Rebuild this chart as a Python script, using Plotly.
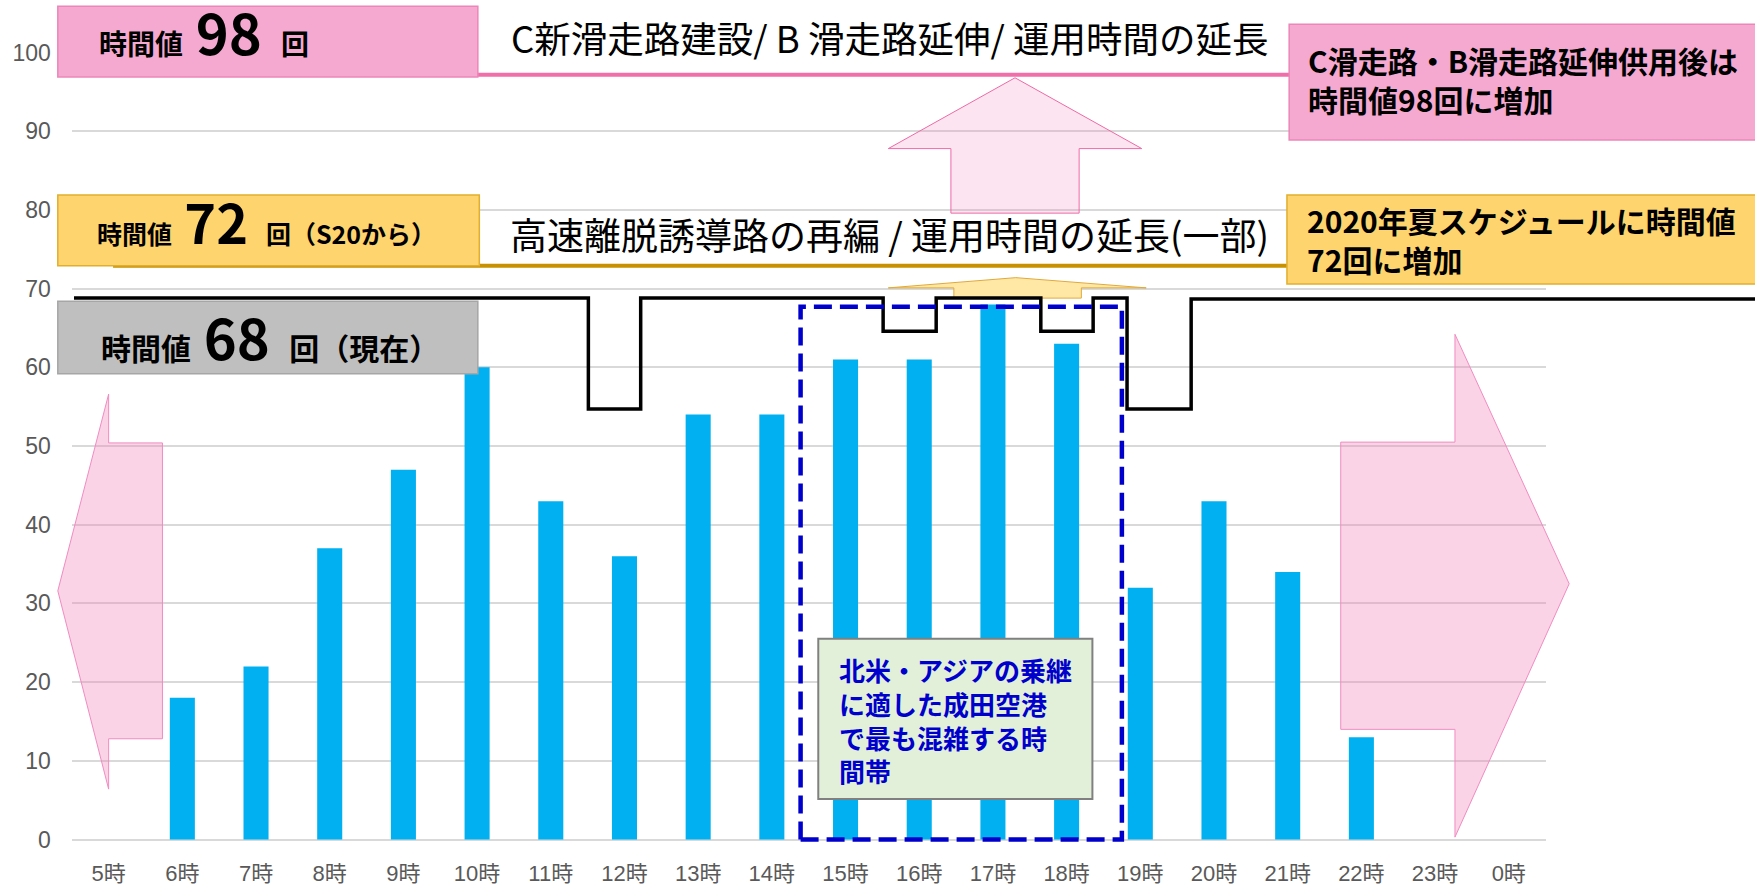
import plotly.graph_objects as go

W, H = 1755, 885

# ── Data ─────────────────────────────────────────────────────────────────────
hour_pos = [5, 6, 7, 8, 9, 10, 11, 12, 13, 14, 15, 16, 17, 18, 19, 20, 21, 22, 23, 24]
hour_labels = ["5時", "6時", "7時", "8時", "9時", "10時", "11時", "12時", "13時", "14時",
               "15時", "16時", "17時", "18時", "19時", "20時", "21時", "22時", "23時", "0時"]
flights = [0, 18, 22, 37, 47, 60, 43, 36, 54, 54, 61, 61, 68, 63, 32, 43, 34, 13, 0, 0]

# current hourly slot limit (step line): segment edges in hours, level per segment
limit_edges = [4.53, 11.51, 12.22, 15.51, 16.23, 17.65, 18.36, 18.82, 19.69, 27.4]
limit_levels = [68.8, 54.7, 68.8, 64.6, 68.8, 64.6, 68.8, 54.7, 68.7]

# future hourly values drawn as lines (C runway / S20)
future_levels = [97.2, 72.9]
future_span = [5.06, 21.1]

y_ticks = [0, 10, 20, 30, 40, 50, 60, 70, 80, 90, 100]

# ── Geometry of the main plot area (pixels) ──────────────────────────────────
L, R, T, B = 71.8, 1545.6, 52.6, 839.5
kx = 20 / (R - L)
ky = 100 / (B - T)
x2_range = [4.5 - L * kx, 24.5 + (W - R) * kx]
y2_range = [0 - (H - B) * ky, 100 + T * ky]

JP = "Noto Sans CJK JP, sans-serif"
TICK = "Liberation Sans, Arial, Noto Sans CJK JP, sans-serif"

PINK_FILL, PINK_EDGE, PINK_LINE = "#F5A9D0", "#EC86B9", "#F06EAA"
GOLD_FILL, GOLD_EDGE, GOLD_LINE = "#FED46E", "#E2AE2D", "#C89100"
BLUE = "#0000CC"

fig = go.Figure()

# invisible trace so the main (tick/grid) subplot gets drawn
fig.add_trace(go.Scatter(x=hour_pos, y=flights, mode="none", hoverinfo="skip",
                         xaxis="x", yaxis="y"))

fig.add_trace(go.Bar(
    x=hour_pos, y=flights, width=0.34,
    marker=dict(color="#00B0F0", line=dict(width=0)),
    xaxis="x2", yaxis="y2", hoverinfo="x+y",
))

fig.add_trace(go.Scatter(
    x=limit_edges, y=limit_levels + [limit_levels[-1]],
    mode="lines", line=dict(color="black", width=3.5, shape="hv"),
    xaxis="x2", yaxis="y2", hoverinfo="skip",
))

for lvl, col in zip(future_levels, [PINK_LINE, GOLD_LINE]):
    fig.add_trace(go.Scatter(
        x=future_span, y=[lvl, lvl], mode="lines",
        line=dict(color=col, width=4),
        xaxis="x2", yaxis="y2", hoverinfo="skip",
    ))


def path(points):
    return "M " + " L ".join(f"{x},{y}" for x, y in points) + " Z"


shapes = []
# big translucent arrows (behind bars)
arrow_pink = dict(type="path", xref="x2", yref="y2", layer="below",
                  fillcolor="rgba(240,130,185,0.35)", line=dict(color="#F08CC0", width=1))
shapes.append(dict(arrow_pink, path=path([
    (4.31, 31.6), (5.0, 56.6), (5.0, 50.4), (5.73, 50.4),
    (5.73, 12.8), (5.0, 12.8), (5.0, 6.4)])))
shapes.append(dict(arrow_pink, path=path([
    (21.72, 50.5), (23.27, 50.5), (23.27, 64.2), (24.82, 32.5),
    (23.27, 0.3), (23.27, 14.0), (21.72, 14.0)])))
shapes.append(dict(type="path", xref="x2", yref="y2", layer="below",
                   fillcolor="rgba(240,130,185,0.22)", line=dict(color="#EE6AA7", width=1),
                   path=path([(16.43, 79.6), (16.43, 87.8), (15.58, 87.8), (17.30, 96.8),
                              (19.02, 87.8), (18.17, 87.8), (18.17, 79.6)])))
shapes.append(dict(type="path", xref="x2", yref="y2", layer="below",
                   fillcolor="#FFE8A6", line=dict(color="#E0A93A", width=1),
                   path=path([(16.47, 68.8), (16.47, 70.1), (15.58, 70.1), (17.31, 71.4),
                              (19.08, 70.1), (18.20, 70.1), (18.20, 68.8)])))


def box(x0, x1, y0, y1, fill, edge, width=1.5):
    return dict(type="rect", xref="x2", yref="y2", layer="above",
                x0=x0, x1=x1, y0=y0, y1=y1,
                fillcolor=fill, line=dict(color=edge, width=width))


shapes += [
    box(4.31, 10.01, 96.9, 105.9, PINK_FILL, PINK_EDGE),
    box(4.31, 10.03, 72.9, 81.9, GOLD_FILL, GOLD_EDGE),
    box(4.31, 10.01, 59.2, 68.4, "#BFBFBF", "#A6A6A6"),
    box(21.02, 27.6, 88.9, 103.6, PINK_FILL, PINK_EDGE),
    box(20.99, 27.6, 70.6, 81.9, GOLD_FILL, GOLD_EDGE),
    dict(type="rect", xref="x2", yref="y2", layer="above",
         x0=14.39, x1=18.75, y0=0, y1=67.7,
         line=dict(color=BLUE, width=4.5, dash="18px,8px")),
    box(14.63, 18.35, 5.15, 25.5, "#E2F0D9", "#808080", width=2),
]


def note(text, x, y, size, color="black", bold=True, anchor="left", bg=None):
    return dict(text=f"<b>{text}</b>" if bold else text, x=x, y=y,
                xref="x2", yref="y2", xanchor=anchor, yanchor="middle",
                align="left", showarrow=False, bgcolor=bg, borderpad=0,
                font=dict(family=JP, size=size, color=color))


big = '<span style="font-size:{}px"> {} </span>'
annotations = [
    note("時間値" + big.format(56, "98") + " 回", 4.86, 102.8, 28),
    note("時間値" + big.format(54, "72") + " 回（S20から）", 4.83, 78.7, 25),
    note("時間値" + big.format(56, "68") + " 回（現在）", 4.88, 64.0, 30),
    note("C新滑走路建設/ B 滑走路延伸/ 運用時間の延長", 15.60, 101.9, 36.5,
         bold=False, anchor="center", bg="white"),
    note("高速離脱誘導路の再編 / 運用時間の延長(一部)", 15.60, 77.0, 37,
         bold=False, anchor="center"),
    note("C滑走路・B滑走路延伸供用後は<br>時間値98回に増加", 21.26, 96.6, 30),
    note("2020年夏スケジュールに時間値<br>72回に増加", 21.25, 76.3, 30),
    note("北米・アジアの乗継<br>に適した成田空港<br>で最も混雑する時<br>間帯", 14.90, 15.2, 26,
         color=BLUE),
]

fig.update_layout(
    width=W, height=H,
    margin=dict(l=0, r=0, t=0, b=0, autoexpand=False),
    paper_bgcolor="white",
    plot_bgcolor="rgba(0,0,0,0)",
    showlegend=False,
    xaxis=dict(
        domain=[L / W, R / W], range=[4.5, 24.5], anchor="y", automargin=False,
        tickvals=hour_pos, ticktext=hour_labels,
        showgrid=False, zeroline=False, showline=False, ticks="",
        tickfont=dict(family=TICK, size=22, color="#595959"),
        ticklabelstandoff=18, fixedrange=True,
    ),
    yaxis=dict(
        domain=[(H - B) / H, (H - T) / H], range=[0, 100], anchor="x", automargin=False,
        tickvals=y_ticks, showgrid=True, gridcolor="#D9D9D9", gridwidth=2,
        zeroline=True, zerolinecolor="#D9D9D9", zerolinewidth=2, showline=False,
        tickfont=dict(family=TICK, size=23, color="#595959"),
        ticklabelstandoff=20, fixedrange=True,
    ),
    xaxis2=dict(domain=[0, 1], range=x2_range, anchor="y2", visible=False,
                automargin=False, fixedrange=True),
    yaxis2=dict(domain=[0, 1], range=y2_range, anchor="x2", visible=False,
                automargin=False, fixedrange=True),
    shapes=shapes,
    annotations=annotations,
)

fig.write_html("out.html", config={"displayModeBar": False},
               post_script="document.body.style.margin='0';")
